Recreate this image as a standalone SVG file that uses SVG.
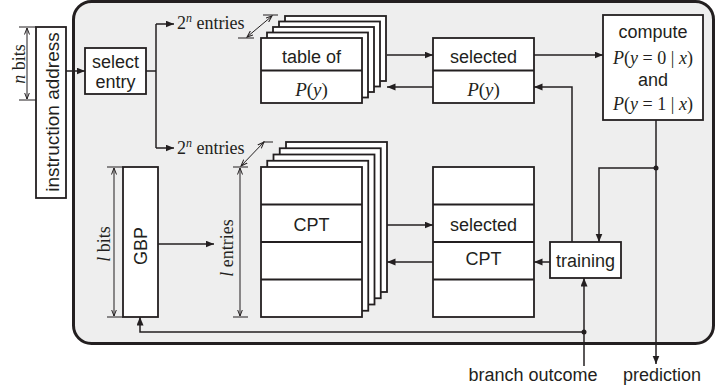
<svg xmlns="http://www.w3.org/2000/svg" width="716" height="391" viewBox="0 0 716 391">
  <style>
    .box { fill: #ffffff; stroke: #231f20; stroke-width: 1.8; }
    .frame { fill: #eeeeee; stroke: #231f20; stroke-width: 3; }
    .wire { fill: none; stroke: #231f20; stroke-width: 1.5; }
    .dim { fill: none; stroke: #231f20; stroke-width: 1; }
    .sans { font-family: "Liberation Sans", Arial, sans-serif; font-size: 18px; fill: #231f20; }
    .serif { font-family: "Liberation Serif", "Times New Roman", serif; font-size: 18px; fill: #231f20; }
    .it { font-style: italic; }
    .dot { fill: #231f20; }
  </style>
  <defs>
    <marker id="arrow" markerUnits="userSpaceOnUse" markerWidth="10" markerHeight="8" refX="8.5" refY="3.5" orient="auto">
      <path d="M0,0 L8.5,3.5 L0,7 z" fill="#231f20"/>
    </marker>
    <marker id="tick" markerUnits="userSpaceOnUse" markerWidth="8" markerHeight="6" refX="6.5" refY="3" orient="auto-start-reverse">
      <path d="M0,0.5 L6.5,3 L0,5.5" fill="none" stroke="#231f20" stroke-width="1"/>
    </marker>
  </defs>

  <!-- instruction address register (outside the predictor) -->
  <g id="instruction-address">
    <rect class="box" x="36" y="27" width="30" height="171"/>
    <text class="sans" style="font-size:19px" text-anchor="middle" transform="translate(58.5,112) rotate(-90)">instruction address</text>
  </g>
  <g id="n-bits">
    <line class="dim" x1="19" y1="27" x2="36" y2="27"/>
    <line class="dim" x1="19" y1="100" x2="36" y2="100"/>
    <line class="dim" x1="27" y1="28" x2="27" y2="99" marker-start="url(#tick)" marker-end="url(#tick)"/>
    <text class="serif" text-anchor="middle" transform="translate(25,64) rotate(-90)"><tspan class="it">n</tspan> bits</text>
  </g>

  <!-- predictor body -->
  <rect id="predictor" class="frame" x="73.5" y="1.5" width="640" height="342" rx="18" ry="18"/>

  <g id="select-entry">
    <rect class="box" x="85" y="48" width="61" height="46"/>
    <text class="sans" x="115.5" y="68" text-anchor="middle">select</text>
    <text class="sans" x="115.5" y="88" text-anchor="middle">entry</text>
  </g>

  <!-- stack of P(y) tables, one per entry -->
  <g id="py-table">
    <rect class="box" x="285" y="16" width="101" height="65"/>
    <rect class="box" x="279" y="21.5" width="101" height="65"/>
    <rect class="box" x="273" y="27" width="101" height="65"/>
    <rect class="box" x="267" y="32.5" width="101" height="65"/>
    <rect class="box" x="261" y="38" width="101" height="65"/>
    <line class="box" x1="261" y1="70.5" x2="362" y2="70.5"/>
    <text class="sans" x="311.5" y="63" text-anchor="middle">table of</text>
    <text class="serif" style="font-size:19px" x="311.5" y="96" text-anchor="middle"><tspan class="it">P</tspan>(<tspan class="it">y</tspan>)</text>
  </g>
  <g id="py-depth">
    <line class="dim" x1="238" y1="38" x2="254" y2="38"/>
    <line class="dim" x1="263" y1="15" x2="278" y2="15"/>
    <line class="dim" x1="247" y1="37" x2="272" y2="16" marker-start="url(#tick)" marker-end="url(#tick)"/>
  </g>

  <g id="selected-py">
    <rect class="box" x="433" y="38" width="101" height="65"/>
    <line class="box" x1="433" y1="70.5" x2="534" y2="70.5"/>
    <text class="sans" x="483.5" y="62.5" text-anchor="middle">selected</text>
    <text class="serif" style="font-size:19px" x="483.5" y="96" text-anchor="middle"><tspan class="it">P</tspan>(<tspan class="it">y</tspan>)</text>
  </g>

  <g id="compute">
    <rect class="box" x="603" y="15" width="100" height="105"/>
    <text class="sans" x="653" y="37.5" text-anchor="middle">compute</text>
    <text class="serif" x="653" y="63.5" text-anchor="middle"><tspan class="it">P</tspan>(<tspan class="it">y</tspan> = 0 | <tspan class="it">x</tspan>)</text>
    <text class="sans" x="653" y="86" text-anchor="middle">and</text>
    <text class="serif" x="653" y="110" text-anchor="middle"><tspan class="it">P</tspan>(<tspan class="it">y</tspan> = 1 | <tspan class="it">x</tspan>)</text>
  </g>

  <g id="gbp">
    <rect class="box" x="123" y="167" width="35" height="150"/>
    <text class="sans" text-anchor="middle" transform="translate(147,246) rotate(-90)">GBP</text>
  </g>
  <g id="l-bits">
    <line class="dim" x1="107" y1="167" x2="123" y2="167"/>
    <line class="dim" x1="107" y1="317" x2="123" y2="317"/>
    <line class="dim" x1="114" y1="168" x2="114" y2="316" marker-start="url(#tick)" marker-end="url(#tick)"/>
    <text class="serif" text-anchor="middle" transform="translate(110,244) rotate(-90)"><tspan class="it">l</tspan> bits</text>
  </g>

  <!-- stack of CPTs, one per entry -->
  <g id="cpt-table">
    <rect class="box" x="286" y="142" width="101" height="150"/>
    <rect class="box" x="279.75" y="148.25" width="101" height="150"/>
    <rect class="box" x="273.5" y="154.5" width="101" height="150"/>
    <rect class="box" x="267.25" y="160.75" width="101" height="150"/>
    <rect class="box" x="261" y="167" width="101" height="150"/>
    <line class="box" x1="261" y1="204.5" x2="362" y2="204.5"/>
    <line class="box" x1="261" y1="242" x2="362" y2="242"/>
    <line class="box" x1="261" y1="279.5" x2="362" y2="279.5"/>
    <text class="sans" x="311.5" y="231" text-anchor="middle">CPT</text>
  </g>
  <g id="l-entries">
    <line class="dim" x1="233" y1="167" x2="248" y2="167"/>
    <line class="dim" x1="233" y1="317" x2="248" y2="317"/>
    <line class="dim" x1="240" y1="168" x2="240" y2="316" marker-start="url(#tick)" marker-end="url(#tick)"/>
    <text class="serif" text-anchor="middle" transform="translate(233,248) rotate(-90)"><tspan class="it">l</tspan> entries</text>
  </g>
  <g id="cpt-depth">
    <line class="dim" x1="263" y1="142" x2="273" y2="142"/>
    <line class="dim" x1="241" y1="166" x2="264" y2="142" marker-start="url(#tick)" marker-end="url(#tick)"/>
  </g>

  <g id="selected-cpt">
    <rect class="box" x="433" y="167" width="101" height="150"/>
    <line class="box" x1="433" y1="204.5" x2="534" y2="204.5"/>
    <line class="box" x1="433" y1="242" x2="534" y2="242"/>
    <line class="box" x1="433" y1="279.5" x2="534" y2="279.5"/>
    <text class="sans" x="483.5" y="231" text-anchor="middle">selected</text>
    <text class="sans" x="483.5" y="265" text-anchor="middle">CPT</text>
  </g>

  <g id="training">
    <rect class="box" x="550" y="242" width="71" height="36"/>
    <text class="sans" x="585.5" y="266.5" text-anchor="middle">training</text>
  </g>

  <!-- entry count labels -->
  <g id="entry-labels">
    <text class="serif" x="177" y="29">2<tspan class="it" font-size="12" dy="-7">n</tspan><tspan dy="7"> entries</tspan></text>
    <text class="serif" x="177" y="154">2<tspan class="it" font-size="12" dy="-7">n</tspan><tspan dy="7"> entries</tspan></text>
  </g>

  <g id="connectors">
    <line class="wire" x1="66" y1="71" x2="85" y2="71" marker-end="url(#arrow)"/>
    <polyline class="wire" points="146,71 156,71"/>
    <line class="wire" x1="156" y1="24" x2="156" y2="148"/>
    <line class="wire" x1="156" y1="24" x2="174" y2="24" marker-end="url(#arrow)"/>
    <line class="wire" x1="156" y1="148" x2="174" y2="148" marker-end="url(#arrow)"/>

    <line class="wire" x1="387" y1="55" x2="433" y2="55" marker-end="url(#arrow)"/>
    <line class="wire" x1="433" y1="87" x2="387" y2="87" marker-end="url(#arrow)"/>
    <line class="wire" x1="534" y1="55" x2="603" y2="55" marker-end="url(#arrow)"/>

    <polyline class="wire" points="572,242 572,87 534,87" marker-end="url(#arrow)"/>

    <line class="wire" x1="656" y1="120" x2="656" y2="364" marker-end="url(#arrow)"/>
    <polyline class="wire" points="656,168 599,168 599,242" marker-end="url(#arrow)"/>
    <circle class="dot" cx="656" cy="168" r="2.5"/>

    <line class="wire" x1="158" y1="244" x2="214" y2="244" marker-end="url(#arrow)"/>
    <line class="wire" x1="387" y1="225" x2="433" y2="225" marker-end="url(#arrow)"/>
    <line class="wire" x1="433" y1="262" x2="387" y2="262" marker-end="url(#arrow)"/>
    <line class="wire" x1="550" y1="262" x2="534" y2="262" marker-end="url(#arrow)"/>

    <line class="wire" x1="584" y1="366" x2="584" y2="278" marker-end="url(#arrow)"/>
    <polyline class="wire" points="584,332 140,332 140,317" marker-end="url(#arrow)"/>
    <circle class="dot" cx="584" cy="332" r="2.5"/>
  </g>

  <g id="io-labels">
    <text class="sans" x="533" y="381" text-anchor="middle">branch outcome</text>
    <text class="sans" x="662" y="381" text-anchor="middle">prediction</text>
  </g>
</svg>
